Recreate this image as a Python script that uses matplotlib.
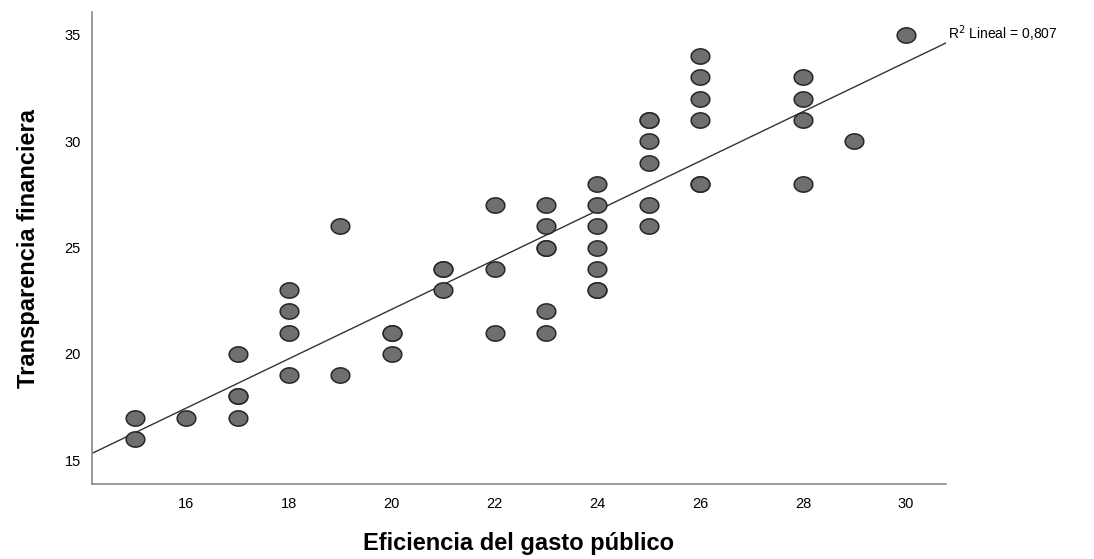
import numpy as np
import matplotlib
matplotlib.use('Agg')
import matplotlib.pyplot as plt

plt.rcParams['font.family'] = ['Liberation Sans', 'DejaVu Sans']

# Datos (pares repetidos incluidos)
eficiencia = [15, 15, 16, 17, 17, 17, 17, 18, 18, 18, 18, 19, 19,
              20, 20, 20, 21, 21, 21, 22, 22, 22,
              23, 23, 23, 23, 23, 23,
              24, 24, 24, 24, 24, 24, 24,
              25, 25, 25, 25, 25, 25,
              26, 26, 26, 26, 26, 26,
              28, 28, 28, 28, 29, 30]
transparencia = [17, 16, 17, 20, 18, 18, 17, 23, 22, 21, 19, 26, 19,
                 21, 21, 20, 24, 24, 23, 27, 24, 21,
                 27, 26, 25, 25, 22, 21,
                 28, 27, 26, 25, 24, 23, 23,
                 31, 31, 30, 29, 27, 26,
                 34, 33, 32, 31, 28, 28,
                 33, 32, 31, 28, 30, 35]
r2_texto = 'R$^2$ Lineal = 0,807'

x = np.array(eficiencia, dtype=float)
y = np.array(transparencia, dtype=float)

fig = plt.figure(figsize=(10.94, 5.59), dpi=100)
ax = fig.add_axes([0.0841, 0.134, 0.7806, 0.8445])

# marcador eliptico como en SPSS
t = np.linspace(0, 2 * np.pi, 60)
elipse = np.column_stack([np.cos(t) * 1.0, np.sin(t) * 0.82])
ax.scatter(x, y, marker=elipse, s=180, c='#6f6f6f', edgecolors='#262626',
           linewidths=1.1, zorder=3)

# recta de ajuste
xmin, xmax = 14.17, 30.78
pend, inter = np.polyfit(x, y, 1)
xs = np.array([xmin, xmax])
ax.plot(xs, pend * xs + inter, color='#333333', lw=1.0, zorder=2)
ax.text(xmax + 0.03, pend * xmax + inter + 0.45, r2_texto, fontsize=10,
        ha='left', va='center', clip_on=False)

ax.set_xlim(xmin, xmax)
ax.set_ylim(13.87, 36.08)
ax.set_xticks([16, 18, 20, 22, 24, 26, 28, 30])
ax.set_yticks([15, 20, 25, 30, 35])
ax.tick_params(length=0, labelsize=10.5, pad=9)
ax.tick_params(axis='y', pad=8)
for s in ['top', 'right']:
    ax.spines[s].set_visible(False)
for s in ['left', 'bottom']:
    ax.spines[s].set_color('#8a8a8a')
    ax.spines[s].set_linewidth(1.2)

ax.set_xlabel('Eficiencia del gasto público', fontsize=17, fontweight='bold',
              va='center')
ax.set_ylabel('Transparencia financiera', fontsize=17, fontweight='bold',
              va='center')
ax.xaxis.set_label_coords(0.5, -0.125)
ax.yaxis.set_label_coords(-0.074, 0.5)

fig.savefig('out.png', dpi=100)
